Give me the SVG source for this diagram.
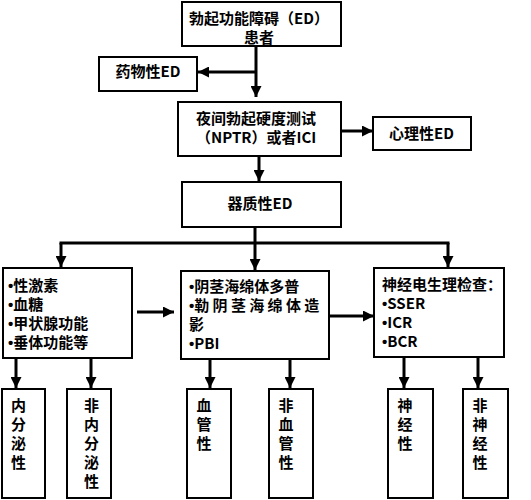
<svg xmlns="http://www.w3.org/2000/svg" width="531" height="500" viewBox="0 0 531 500">
<defs>
<marker id="ah" viewBox="0 0 10 10" refX="10" refY="5" markerWidth="11" markerHeight="11" markerUnits="userSpaceOnUse" orient="auto">
<path d="M0,0 L10,5 L0,10 z" fill="#000"/>
</marker>
<style>
.box{fill:#fff;stroke:#000;stroke-width:2}
.t{font-family:"Noto Sans CJK SC","Liberation Sans",sans-serif;font-size:15px;font-weight:bold;fill:#000}
.c{text-anchor:middle}
.b{font-family:"Liberation Sans",sans-serif}
.con{stroke:#000;stroke-width:3;fill:none}
.arr{stroke:#000;stroke-width:3;fill:none;marker-end:url(#ah)}
</style>
</defs>
<rect width="531" height="500" fill="#fff"/>
<g id="connectors">
<line class="arr" x1="256" y1="46" x2="256" y2="97"/>
<line class="arr" x1="256" y1="72" x2="198" y2="72"/>
<line class="arr" x1="341" y1="131" x2="373" y2="131"/>
<line class="arr" x1="259" y1="156" x2="259" y2="181"/>
<line class="con" x1="255" y1="227" x2="255" y2="243"/>
<line class="con" x1="59.5" y1="243" x2="449.5" y2="243"/>
<line class="arr" x1="61" y1="243" x2="61" y2="267"/>
<line class="arr" x1="255" y1="243" x2="255" y2="270"/>
<line class="arr" x1="448" y1="243" x2="448" y2="267"/>
<line class="arr" x1="137" y1="312" x2="174" y2="312"/>
<line class="arr" x1="330" y1="316" x2="374" y2="316"/>
<line class="arr" x1="16" y1="358" x2="16" y2="388"/>
<line class="arr" x1="91" y1="358" x2="91" y2="388"/>
<line class="arr" x1="210" y1="359" x2="210" y2="388"/>
<line class="arr" x1="290" y1="359" x2="290" y2="388"/>
<line class="arr" x1="404" y1="357" x2="404" y2="388"/>
<line class="arr" x1="478" y1="357" x2="478" y2="388"/>
</g>
<g id="n-ed">
<rect class="box" x="182" y="2" width="159" height="44"/>
<text class="t c" x="259" y="24"><tspan x="259">勃起功能障碍（ED）</tspan><tspan x="259" dy="19.2">患者</tspan></text>
</g>
<g id="n-drug">
<rect class="box" x="99" y="57" width="98" height="34"/>
<text class="t c" x="148" y="77">药物性ED</text>
</g>
<g id="n-nptr">
<rect class="box" x="178" y="102" width="163" height="54"/>
<text class="t" x="196" y="123.5"><tspan x="196">夜间勃起硬度测试</tspan><tspan x="196" dy="19.2">（NPTR）或者ICI</tspan></text>
</g>
<g id="n-psy">
<rect class="box" x="373" y="117" width="98" height="33"/>
<text class="t c" x="421.5" y="139">心理性ED</text>
</g>
<g id="n-org">
<rect class="box" x="182" y="182" width="159" height="45"/>
<text class="t c" x="260" y="208.5">器质性ED</text>
</g>
<g id="n-endo">
<rect class="box" x="3" y="268" width="129" height="90"/>
<text class="t" x="8" y="290.5"><tspan x="8" class="b">•</tspan>性激素<tspan x="8" dy="19.2" class="b">•</tspan>血糖<tspan x="8" dy="19.2" class="b">•</tspan>甲状腺功能<tspan x="8" dy="19.2" class="b">•</tspan>垂体功能等</text>
</g>
<g id="n-vasc">
<rect class="box" x="181" y="271" width="148" height="88"/>
<text class="t" x="189" y="291.5"><tspan x="189" class="b">•</tspan>阴茎海绵体多普<tspan x="189" dy="19.2" class="b">•</tspan><tspan textLength="125" lengthAdjust="spacing">勒阴茎海绵体造</tspan><tspan x="189" dy="19.2">影</tspan><tspan x="189" dy="19.2" class="b">•</tspan>PBI</text>
</g>
<g id="n-neuro">
<rect class="box" x="374" y="268" width="130" height="89"/>
<text class="t" x="382" y="289.5"><tspan x="382">神经电生理检查：</tspan><tspan x="382" dy="19.2" class="b">•</tspan>SSER<tspan x="382" dy="19.2" class="b">•</tspan>ICR<tspan x="382" dy="19.2" class="b">•</tspan>BCR</text>
</g>
<g id="n-b1">
<rect class="box" x="2" y="389" width="43" height="109"/>
<text class="t c" x="18.5" y="410.5"><tspan x="18.5">内</tspan><tspan x="18.5" dy="19.2">分</tspan><tspan x="18.5" dy="19.2">泌</tspan><tspan x="18.5" dy="19.2">性</tspan></text>
</g>
<g id="n-b2">
<rect class="box" x="67" y="389" width="44" height="109"/>
<text class="t c" x="91.5" y="410.5"><tspan x="91.5">非</tspan><tspan x="91.5" dy="19.2">内</tspan><tspan x="91.5" dy="19.2">分</tspan><tspan x="91.5" dy="19.2">泌</tspan><tspan x="91.5" dy="19.2">性</tspan></text>
</g>
<g id="n-b3">
<rect class="box" x="187" y="389" width="44" height="109"/>
<text class="t c" x="204" y="410.5"><tspan x="204">血</tspan><tspan x="204" dy="19.2">管</tspan><tspan x="204" dy="19.2">性</tspan></text>
</g>
<g id="n-b4">
<rect class="box" x="269" y="389" width="44" height="109"/>
<text class="t c" x="286" y="410.5"><tspan x="286">非</tspan><tspan x="286" dy="19.2">血</tspan><tspan x="286" dy="19.2">管</tspan><tspan x="286" dy="19.2">性</tspan></text>
</g>
<g id="n-b5">
<rect class="box" x="388" y="389" width="45" height="109"/>
<text class="t c" x="405" y="410.5"><tspan x="405">神</tspan><tspan x="405" dy="19.2">经</tspan><tspan x="405" dy="19.2">性</tspan></text>
</g>
<g id="n-b6">
<rect class="box" x="463" y="389" width="45" height="109"/>
<text class="t c" x="480" y="410.5"><tspan x="480">非</tspan><tspan x="480" dy="19.2">神</tspan><tspan x="480" dy="19.2">经</tspan><tspan x="480" dy="19.2">性</tspan></text>
</g>
</svg>
